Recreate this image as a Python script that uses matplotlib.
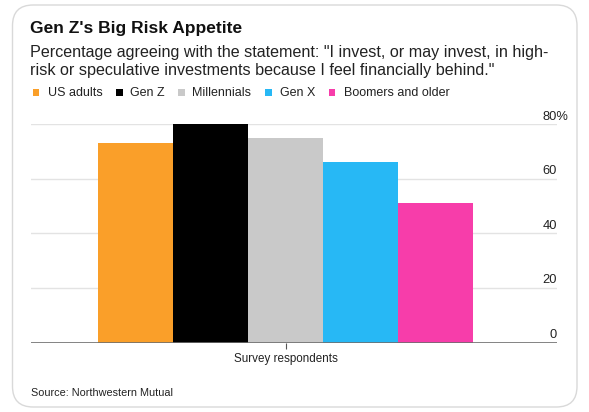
import matplotlib
matplotlib.use("Agg")
import matplotlib.pyplot as plt
import matplotlib.transforms as mtransforms
from matplotlib.patches import FancyBboxPatch, Rectangle

# ---- data ----
series = ["US adults", "Gen Z", "Millennials", "Gen X", "Boomers and older"]
values = [73, 80, 75, 66, 51]
colors = ["#FA9F29", "#000000", "#C9C9C9", "#27B8F5", "#F73DAA"]
group_label = "Survey respondents"
yticks = [0, 20, 40, 60, 80]
title = "Gen Z's Big Risk Appetite"
subtitle_lines = ['Percentage agreeing with the statement: "I invest, or may invest, in high-',
                  'risk or speculative investments because I feel financially behind."']
source = "Source: Northwestern Mutual"

plt.rcParams['font.family'] = ['Liberation Sans', 'DejaVu Sans']

W, H = 589, 412
fig = plt.figure(figsize=(W / 100, H / 100), dpi=100)
fig.patch.set_facecolor("white")

def fx(px):
    return px / W

def fy(py):
    return 1 - py / H

# card border
card = FancyBboxPatch((fx(12.5), fy(407)), fx(577) - fx(12.5), fy(5) - fy(407),
                      boxstyle="round,pad=0,rounding_size=0.035",
                      transform=fig.transFigure, facecolor="none",
                      edgecolor="#D9D9D9", linewidth=1.0, mutation_aspect=W / H,
                      zorder=-5)
fig.patches.append(card)

# axes
ax_left, ax_right, ax_top, ax_bottom = 30.7, 556.7, 124.3, 342.5
ax = fig.add_axes([fx(ax_left), fy(ax_bottom), fx(ax_right - ax_left), (ax_bottom - ax_top) / H])
ax.set_facecolor("none")
ax.set_zorder(2)

n = len(values)
bw = 1.0
xs = [(i - (n - 1) / 2) * bw for i in range(n)]
ax.bar(xs, values, width=bw, color=colors, linewidth=0, zorder=3)

ppu = 75.0
center_px = 285.8
ax.set_xlim(-(center_px - ax_left) / ppu, (ax_right - center_px) / ppu)
ax.set_ylim(0, 80)

for s in ax.spines.values():
    s.set_visible(False)
ax.set_yticks([])
ax.set_xticks([0])
ax.set_xticklabels([group_label], fontsize=8.4, color="#222222")
ax.tick_params(axis='x', length=4, width=0.8, color="#555555", pad=3.5)

for v in yticks:
    if v == 0:
        ax.axhline(0, color="#6E6E6E", linewidth=1.2, zorder=4)
    else:
        ax.axhline(v, color="#E3E3E3", linewidth=1.0, zorder=1)

trans = mtransforms.blended_transform_factory(ax.transAxes, ax.transData)
tick_texts = []
for v in yticks:
    t = mtransforms.offset_copy(trans, fig=fig, x=0.0, y=5.6, units='points')
    txt = ax.text(1.0, v, str(v), transform=t, ha='right', va='center',
                  fontsize=9.3, color="#222222")
    tick_texts.append(txt)

# top label gets a "%" suffix, keeping the number right-aligned with the others
fig.canvas.draw()
top = tick_texts[-1]
bb = top.get_window_extent(renderer=fig.canvas.get_renderer())
x0_axes = ax.transAxes.inverted().transform((bb.x0, bb.y0))[0]
top.set_text(str(yticks[-1]) + "%")
top.set_ha('left')
top.set_x(x0_axes)

# titles
fig.text(fx(30.5), fy(33.3), title, fontsize=12.5, fontweight='bold', color="#111111",
         ha='left', va='baseline')
for i, line in enumerate(subtitle_lines):
    fig.text(fx(30.5), fy(56.7 + i * 18.0), line, fontsize=11.6, color="#222222",
             ha='left', va='baseline')

# legend
legend_items = [(32.5, 47.5), (116, 129.5), (178.5, 192.5), (265, 279.5), (328.5, 344)]
ly = 92.5
for (sx, tx), name, c in zip(legend_items, series, colors):
    fig.patches.append(Rectangle((fx(sx), fy(ly + 3.8)), fx(6.5), 7.5 / H,
                                 transform=fig.transFigure, facecolor=c, edgecolor='none'))
    fig.text(fx(tx), fy(ly), name, fontsize=9.0, color="#222222", ha='left', va='center')

fig.text(fx(30.7), fy(392.7), source, fontsize=7.8, color="#222222", ha='left', va='center')

fig.savefig("out.png", dpi=100, facecolor="white")
